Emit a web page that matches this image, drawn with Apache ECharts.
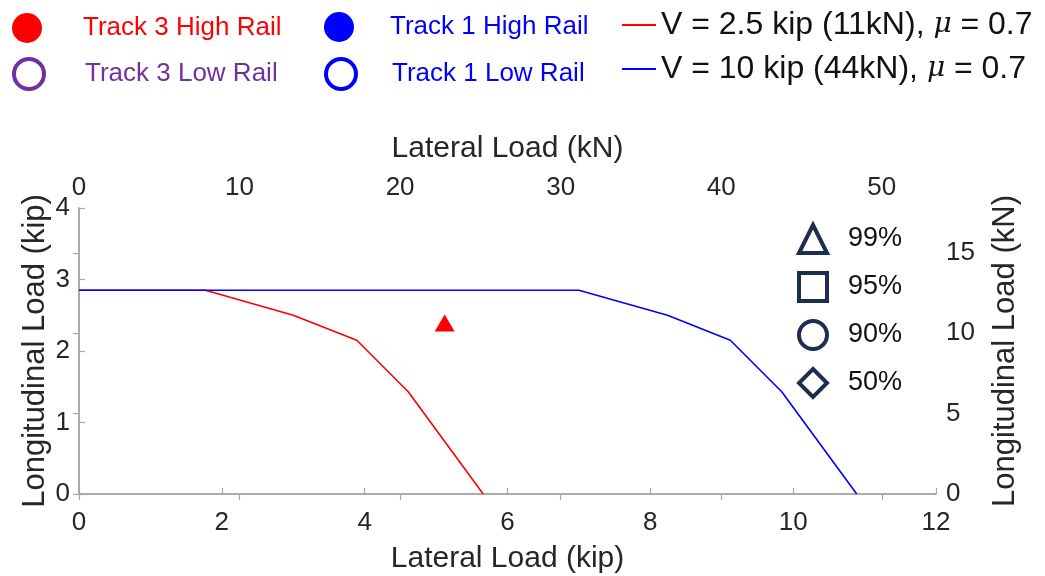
<!DOCTYPE html>
<html>
<head>
<meta charset="utf-8">
<script src="https://cdn.jsdelivr.net/npm/echarts@6/dist/echarts.min.js"></script>
<style>html,body{margin:0;padding:0;background:#fff}#c{width:1045px;height:576px}</style>
</head>
<body>
<div id="c"></div>
<script>
// ---- data ----
const KN_PER_KIP = 4.44822;
const xTicksKip = [0, 2, 4, 6, 8, 10, 12];
const yTicksKip = [0, 1, 2, 3, 4];
const redLineX = [0, 1.77, 3.0, 3.89, 4.61, 5.66];
const redLineY = [2.85, 2.85, 2.50, 2.15, 1.43, 0];
const blueLineX = [0, 7.0, 8.24, 9.12, 9.84, 10.89];
const blueLineY = [2.85, 2.85, 2.50, 2.15, 1.43, 0];
const track3HighX = [5.12];
const track3HighY = [2.39];
const percentLabels = ['99%', '95%', '90%', '50%'];
const percentSymbols = ['triangle', 'rect', 'circle', 'diamond'];
const trackNames = ['Track 3 High Rail', 'Track 3 Low Rail', 'Track 1 High Rail', 'Track 1 Low Rail'];
const lineNames = ['V = 2.5 kip (11kN), μ = 0.7', 'V = 10 kip (44kN), μ = 0.7'];

const zip = (xs, ys) => xs.map((x, i) => [x, ys[i]]);
const FONT = 'Liberation Sans';
const AX = '#a6a6a6';
const TXT = '#262626';
const NAVY = '#1c2d4f';
const RED = '#ff0000', BLUE = '#0000ff', PURPLE = '#7030a0';

const axisCommon = {
  type: 'value',
  nameLocation: 'middle',
  nameMoveOverlap: false,
  nameTextStyle: { fontFamily: FONT, fontSize: 30, color: TXT },
  axisLine: { show: true, lineStyle: { color: AX, width: 1.5 } },
  axisTick: { show: true, inside: true, length: 6, lineStyle: { color: AX, width: 1.2 } },
  axisLabel: { fontFamily: FONT, fontSize: 26, color: TXT },
  splitLine: { show: false }
};

const trackStyles = [
  { color: RED, borderColor: RED, borderWidth: 0, opacity: 1 },
  { color: '#fff', borderColor: PURPLE, borderWidth: 4, opacity: 1 },
  { color: BLUE, borderColor: BLUE, borderWidth: 0, opacity: 1 },
  { color: '#fff', borderColor: BLUE, borderWidth: 4, opacity: 1 }
];
const trackTextColors = [RED, PURPLE, BLUE, BLUE];
const trackPos = [[7, 8], [7, 52], [319, 7], [319, 52]];
const trackPad = [36, 36, 31, 31];

const legends = trackNames.map((n, i) => ({
  left: trackPos[i][0], top: trackPos[i][1],
  itemWidth: 30, itemHeight: 30,
  data: [{ name: n, icon: 'circle', itemStyle: trackStyles[i] }],
  textStyle: { fontFamily: FONT, fontSize: 26, color: trackTextColors[i], padding: [0, 0, 0, trackPad[i]] },
  selectedMode: false
}));

legends.push({
  left: 617, top: 2, orient: 'vertical', itemGap: 8,
  itemWidth: 34, itemHeight: 2,
  data: lineNames.map((n, i) => ({ name: n, icon: 'rect', itemStyle: { color: i ? BLUE : RED, opacity: 1 } })),
  selectedMode: false,
  textStyle: {
    fontFamily: FONT, fontSize: 32, color: '#111', lineHeight: 36,
    rich: {
      a: { fontFamily: FONT, fontSize: 32, color: '#111', lineHeight: 36 },
      m: { fontFamily: 'DejaVu Serif', fontStyle: 'italic', fontSize: 28, color: '#111', lineHeight: 36 }
    }
  },
  formatter: (name) => {
    const p = name.split('μ');
    return '{a|' + p[0] + '}{m|μ}{a|' + p[1] + '}';
  }
});

legends.push({
  left: 792, top: 218, orient: 'vertical', itemGap: 16,
  itemWidth: 28, itemHeight: 28,
  selectedMode: false,
  data: percentLabels.map((n, i) => ({
    name: n, icon: percentSymbols[i],
    itemStyle: { color: '#fff', borderColor: NAVY, borderWidth: 4, opacity: 1 }
  })),
  textStyle: { fontFamily: FONT, fontSize: 27, color: '#111', lineHeight: 28, padding: [0, 0, 0, 16] }
});

const series = [
  {
    name: trackNames[0], type: 'scatter', xAxisIndex: 0, yAxisIndex: 0,
    symbol: 'triangle', symbolSize: [20, 17],
    itemStyle: { color: RED, opacity: 1 },
    data: zip(track3HighX, track3HighY), z: 5
  },
  { name: trackNames[1], type: 'scatter', data: [], itemStyle: trackStyles[1] },
  { name: trackNames[2], type: 'scatter', data: [], itemStyle: trackStyles[2] },
  { name: trackNames[3], type: 'scatter', data: [], itemStyle: trackStyles[3] },
  {
    name: lineNames[0], type: 'line', xAxisIndex: 0, yAxisIndex: 0,
    symbol: 'none', lineStyle: { color: RED, width: 1.6 }, itemStyle: { color: RED },
    data: zip(redLineX, redLineY), z: 3
  },
  {
    name: lineNames[1], type: 'line', xAxisIndex: 0, yAxisIndex: 0,
    symbol: 'none', lineStyle: { color: BLUE, width: 1.6 }, itemStyle: { color: BLUE },
    data: zip(blueLineX, blueLineY), z: 3
  }
].concat(percentLabels.map((n, i) => ({
  name: n, type: 'scatter', data: [], symbol: percentSymbols[i],
  itemStyle: { color: '#fff', borderColor: NAVY, borderWidth: 4, opacity: 1 }
})));

const chart = echarts.init(document.getElementById('c'), null, { renderer: 'canvas' });
chart.setOption({
  animation: false,
  backgroundColor: '#fff',
  grid: { left: 79, right: 109, top: 208, bottom: 82, containLabel: false },
  legend: legends,
  xAxis: [
    Object.assign({}, axisCommon, {
      position: 'bottom', min: xTicksKip[0], max: xTicksKip[xTicksKip.length - 1], interval: 2,
      name: 'Lateral Load (kip)', nameGap: 50,
      axisLabel: Object.assign({}, axisCommon.axisLabel, { margin: 16 })
    }),
    Object.assign({}, axisCommon, {
      position: 'top', min: 0, max: xTicksKip[xTicksKip.length - 1] * KN_PER_KIP, interval: 10,
      name: 'Lateral Load (kN)', nameGap: 44,
      axisLabel: Object.assign({}, axisCommon.axisLabel, { margin: 7, showMaxLabel: false })
    })
  ],
  yAxis: [
    Object.assign({}, axisCommon, {
      position: 'left', min: yTicksKip[0], max: yTicksKip[yTicksKip.length - 1], interval: 1,
      name: 'Longitudinal Load (kip)', nameGap: 28, nameRotate: 90,
      nameTextStyle: { fontFamily: FONT, fontSize: 31, color: TXT },
      axisLabel: Object.assign({}, axisCommon.axisLabel, { margin: 9 })
    }),
    Object.assign({}, axisCommon, {
      position: 'right', min: 0, max: yTicksKip[yTicksKip.length - 1] * KN_PER_KIP, interval: 5,
      name: 'Longitudinal Load (kN)', nameGap: 54, nameRotate: 90,
      nameTextStyle: { fontFamily: FONT, fontSize: 31, color: TXT },
      axisLabel: Object.assign({}, axisCommon.axisLabel, { margin: 10, showMaxLabel: false })
    })
  ],
  series: series
});
</script>
</body>
</html>
